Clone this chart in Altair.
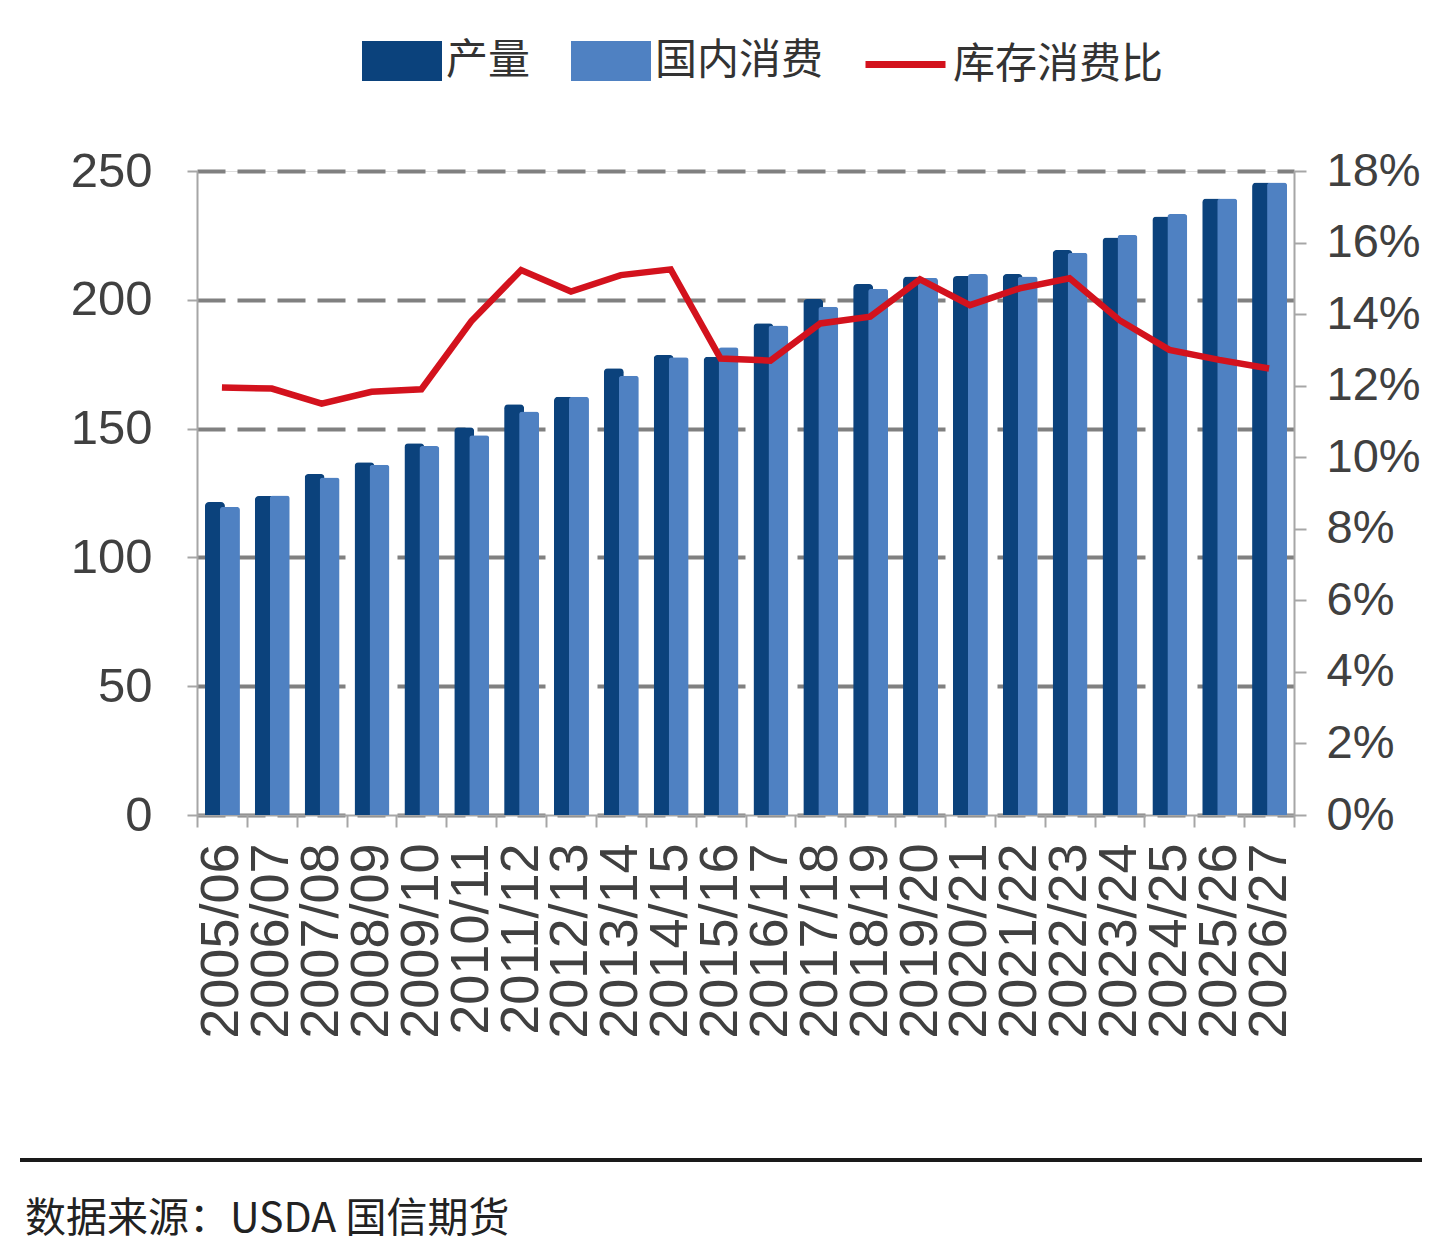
import altair as alt
import pandas as pd

years = ["2005/06", "2006/07", "2007/08", "2008/09", "2009/10", "2010/11",
         "2011/12", "2012/13", "2013/14", "2014/15", "2015/16", "2016/17",
         "2017/18", "2018/19", "2019/20", "2020/21", "2021/22", "2022/23",
         "2023/24", "2024/25", "2025/26", "2026/27"]
production = [121.5, 123.8, 132.4, 136.9, 144.3, 150.5, 159.5, 162.4, 173.4, 178.6,
              177.9, 190.9, 200.3, 206.1, 209.0, 209.2, 210.0, 219.3, 224.2, 232.3,
              239.3, 245.5]
consumption = [119.6, 124.0, 131.0, 136.0, 143.2, 147.4, 156.6, 162.4, 170.5, 177.7,
               181.6, 190.0, 197.3, 204.3, 208.5, 210.0, 209.0, 218.3, 225.2, 233.3,
               239.3, 245.5]
stock_ratio_pct = [11.95, 11.92, 11.5, 11.83, 11.9, 13.8, 15.23, 14.63, 15.09, 15.25,
                   12.76, 12.7, 13.74, 13.93, 14.97, 14.25, 14.72, 15.0, 13.83, 13.0,
                   12.72, 12.48]
left_ticks = [0, 50, 100, 150, 200, 250]
right_ticks = [0, 0.02, 0.04, 0.06, 0.08, 0.10, 0.12, 0.14, 0.16, 0.18]
series_names = ["产量", "国内消费", "库存消费比"]
source_text = "数据来源：USDA 国信期货"

DARK = "#0b427c"
LIGHT = "#4f81c2"
RED = "#d3121d"
AXIS_GRAY = "#a6a6a6"
LABEL = "#404040"
CJK = "Noto Sans CJK SC"
REG = "Liberation Sans, Arial"

W, H = 1097, 644

bars_df = pd.DataFrame({
    "year": years * 2,
    "series": [series_names[0]] * len(years) + [series_names[1]] * len(years),
    "value": production + consumption,
})
line_df = pd.DataFrame({
    "year": years,
    "ratio": [v / 100 for v in stock_ratio_pct],
    "series": [series_names[2]] * len(years),
})

x_enc = alt.X(
    "year:N", sort=years, title=None,
    scale=alt.Scale(paddingInner=0, paddingOuter=0),
    axis=alt.Axis(labelAngle=270, labelFont=REG, labelFontSize=54, labelColor=LABEL,
                  labelPadding=16, tickBand="extent", tickSize=12, tickWidth=2,
                  tickColor=AXIS_GRAY, domainColor=AXIS_GRAY, domainWidth=2,
                  grid=False, labelLimit=400),
)

fill_scale = alt.Scale(domain=series_names[:2], range=[DARK, LIGHT])
fill_legend = alt.Legend(
    title=None, orient="none", legendX=165, legendY=-150, direction="horizontal",
    symbolType="M-1,-0.5H1V0.5H-1Z", symbolSize=6400, symbolStrokeWidth=0,
    labelFont=CJK, labelFontSize=42, labelColor="#333333", labelOffset=4,
    columnPadding=40, labelLimit=400,
)
stroke_legend = alt.Legend(
    title=None, orient="none", legendX=665, legendY=-150, direction="horizontal",
    symbolType="stroke", symbolSize=6400, symbolStrokeWidth=7,
    labelFont=CJK, labelFontSize=42, labelColor="#333333", labelOffset=4,
    labelLimit=400,
)

y_left = alt.Y(
    "value:Q", title=None,
    scale=alt.Scale(domain=[0, 250], nice=False),
    axis=alt.Axis(values=left_ticks, grid=True, gridDash=[28, 12], gridColor="#808080",
                  gridWidth=4, domainColor=AXIS_GRAY, domainWidth=2, tickColor=AXIS_GRAY,
                  tickSize=10, tickWidth=2, labelFont=REG, labelFontSize=49,
                  labelColor=LABEL, labelPadding=35),
)

base = alt.Chart(bars_df)
dark = base.transform_filter(alt.datum.series == series_names[0]).mark_bar(
    width=20, xOffset=-7, cornerRadiusTopLeft=4, cornerRadiusTopRight=4
).encode(x=x_enc, y=y_left, fill=alt.Fill("series:N", scale=fill_scale, legend=fill_legend))
light = base.transform_filter(alt.datum.series == series_names[1]).mark_bar(
    width=20, xOffset=8, cornerRadiusTopLeft=3, cornerRadiusTopRight=3
).encode(x=x_enc, y=y_left, fill=alt.Fill("series:N", scale=fill_scale, legend=fill_legend))
bars = alt.layer(dark, light)

line = alt.Chart(line_df).mark_line(strokeWidth=6.5, strokeJoin="miter").encode(
    x=x_enc,
    y=alt.Y("ratio:Q", title=None, scale=alt.Scale(domain=[0, 0.18], nice=False),
            axis=alt.Axis(orient="right", values=right_ticks, format=".0%", grid=False,
                          domainColor=AXIS_GRAY, domainWidth=2, tickColor=AXIS_GRAY,
                          tickSize=12, tickWidth=2, labelFont=REG, labelFontSize=47,
                          labelColor=LABEL, labelPadding=20)),
    stroke=alt.Stroke("series:N", scale=alt.Scale(domain=[series_names[2]], range=[RED]),
                      legend=stroke_legend),
)

foot = pd.DataFrame({"t": [source_text]})
rule = alt.Chart(foot).mark_rule(color="#1a1a1a", strokeWidth=4).encode(
    x=alt.value(-177), x2=alt.value(1225), y=alt.value(H + 345))
text = alt.Chart(foot).mark_text(align="left", baseline="middle", font=CJK, fontSize=41,
                                 color="#222222").encode(
    x=alt.value(-172), y=alt.value(H + 405), text="t:N")

chart = alt.layer(bars, line, rule, text).resolve_scale(y="independent").properties(
    width=W, height=H,
    padding={"left": 10, "top": 13, "right": 0, "bottom": 5},
).configure_view(stroke=None).configure(background="white")

chart.save("out.html", embed_options={"renderer": "svg", "actions": False})
